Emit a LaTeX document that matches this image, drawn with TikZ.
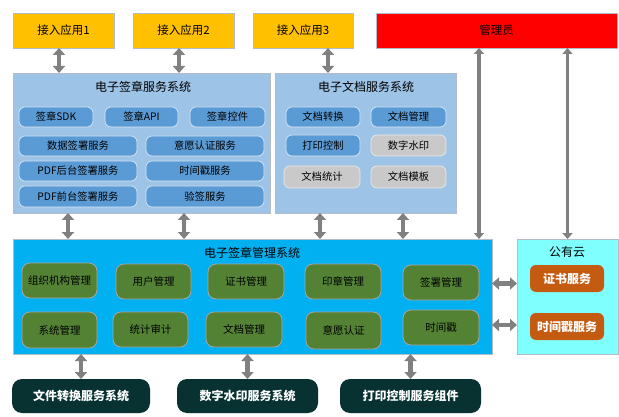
\documentclass[tikz,border=0pt]{standalone}
\usepackage{fontspec}
\setmainfont{Noto Sans CJK SC}
\usetikzlibrary{arrows.meta}
\definecolor{appY}{HTML}{FFC000}
\definecolor{adminR}{HTML}{FF0000}
\definecolor{contB}{HTML}{9DC3E6}
\definecolor{pillB}{HTML}{5B9BD5}
\definecolor{pillG}{HTML}{C9C9C9}
\definecolor{mgmtB}{HTML}{00B0F0}
\definecolor{greenM}{HTML}{548235}
\definecolor{cloudC}{HTML}{80FFFF}
\definecolor{orangeS}{HTML}{C55A11}
\definecolor{darkT}{HTML}{073231}
\definecolor{arrG}{HTML}{808080}
\definecolor{edgeG}{HTML}{B4BCC8}
\newcommand\bx[7]{\node[#6, minimum width={#4-#2}, minimum height={#5-#3}] (#1) at ({(#2+#4)/2},{(#3+#5)/2}) {#7};}
\tikzset{
  base/.style={inner sep=0pt, outer sep=0pt, align=center},
  appbox/.style={base, fill=appY, draw=edgeG, line width=0.6pt, font=\fontsize{11.5}{13}\selectfont},
  adminbox/.style={base, fill=adminR, draw=edgeG, line width=0.6pt, font=\fontsize{11.5}{13}\selectfont},
  contbox/.style={base, fill=contB, draw=edgeG, line width=0.6pt},
  title/.style={base, font=\fontsize{12}{14}\selectfont},
  pill/.style={base, rounded corners=6pt, fill=pillB, draw=white!75!pillB, line width=0.7pt, font=\fontsize{10.3}{12}\selectfont},
  gpill/.style={pill, fill=pillG, draw=white!60!pillG},
  mgmtbox/.style={base, fill=mgmtB, draw=edgeG, line width=0.6pt},
  cloudbox/.style={base, fill=cloudC, draw=edgeG, line width=0.6pt},
  gbox/.style={base, rounded corners=8pt, fill=greenM, draw=gray!70, line width=0.8pt, font=\fontsize{10.5}{12}\selectfont},
  obox/.style={base, rounded corners=6pt, fill=orangeS, text=white, font=\fontsize{12}{14}\selectfont\bfseries},
  dbox/.style={base, rounded corners=10pt, fill=darkT, text=white, font=\fontsize{12}{14}\selectfont\bfseries},
  dbl/.style={draw=arrG, line width=4.3pt, {Triangle[width=12pt,length=7pt]}-{Triangle[width=12pt,length=7pt]}},
  dblthin/.style={draw=arrG, line width=3.5pt, {Triangle[width=10pt,length=6pt]}-{Triangle[width=10pt,length=6pt]}},
}
\begin{document}
\begin{tikzpicture}[x=1pt,y=-1pt]
\useasboundingbox[fill=white] (0,0) rectangle (619,417);
% top row
\bx{a1}{13}{13}{114}{48}{appbox}{接入应用1}
\bx{a2}{133}{13}{234}{48}{appbox}{接入应用2}
\bx{a3}{253}{13}{353}{48}{appbox}{接入应用3}
\bx{adm}{376}{13}{617}{48}{adminbox}{管理员}
% service systems
\bx{sig}{13}{73}{270}{213}{contbox}{}
\node[title] (sigt) at (143,87) {电子签章服务系统};
\bx{doc}{275}{73}{456}{213}{contbox}{}
\node[title] (doct) at (366,87) {电子文档服务系统};
% signature pills
\bx{s1}{19}{107}{93}{127}{pill}{签章SDK}
\bx{s2}{105}{107}{178}{127}{pill}{签章API}
\bx{s3}{190}{107}{265}{127}{pill}{签章控件}
\bx{s4}{19}{136}{137}{156}{pill}{数据签署服务}
\bx{s5}{146}{136}{264}{156}{pill}{意愿认证服务}
\bx{s6}{19}{161}{137}{181}{pill}{PDF后台签署服务}
\bx{s7}{146}{161}{264}{181}{pill}{时间戳服务}
\bx{s8}{19}{186}{137}{207}{pill}{PDF前台签署服务}
\bx{s9}{146}{186}{264}{207}{pill}{验签服务}
% document pills
\bx{d1}{286}{107}{360}{127}{pill}{文档转换}
\bx{d2}{371}{107}{446}{127}{pill}{文档管理}
\bx{d3}{286}{135}{360}{156}{pill}{打印控制}
\bx{d4}{371}{135}{446}{156}{gpill}{数字水印}
\bx{d5}{284}{166}{360}{188}{gpill}{文档统计}
\bx{d6}{371}{166}{446}{188}{gpill}{文档模板}
% management system
\bx{mg}{13}{239}{492}{354}{mgmtbox}{}
\node[title] (mgt) at (252,253) {电子签章管理系统};
\bx{g1}{22}{263}{97}{298}{gbox}{组织机构管理}
\bx{g2}{116}{264}{191}{299}{gbox}{用户管理}
\bx{g3}{208}{264}{284}{299}{gbox}{证书管理}
\bx{g4}{305}{264}{381}{299}{gbox}{印章管理}
\bx{g5}{403}{265}{479}{300}{gbox}{签署管理}
\bx{g6}{22}{312}{97}{348}{gbox}{系统管理}
\bx{g7}{113}{312}{188}{347}{gbox}{统计审计}
\bx{g8}{206}{312}{282}{347}{gbox}{文档管理}
\bx{g9}{306}{312}{381}{349}{gbox}{意愿认证}
\bx{g10}{403}{310}{479}{345}{gbox}{时间戳}
% public cloud
\bx{cl}{517}{239}{618}{354}{cloudbox}{}
\node[title] (clt) at (567,252) {公有云};
\bx{c1}{530}{265}{604}{292}{obox}{证书服务}
\bx{c2}{530}{313}{604}{340}{obox}{时间戳服务}
% bottom systems
\bx{b1}{12}{379}{150}{413}{dbox}{文件转换服务系统}
\bx{b2}{177}{379}{318}{413}{dbox}{数字水印服务系统}
\bx{b3}{340}{379}{481}{413}{dbox}{打印控制服务组件}
% arrow anchor coordinates
\coordinate (p1) at ([xshift=-4.5pt]a1.south);
\coordinate (p2) at ([xshift=-4.5pt]a2.south);
\coordinate (p3) at ([xshift=25pt]a3.south);
\coordinate (m1) at ([xshift=55pt]sig.south west);
\coordinate (m2) at ([xshift=171pt]sig.south west);
\coordinate (m3) at ([xshift=45pt]doc.south west);
\coordinate (m4) at ([xshift=128pt]doc.south west);
\coordinate (q1) at ([xshift=103pt]adm.south west);
\coordinate (q2) at (adm.south -| cl.north);
\coordinate (h1) at ([yshift=-5pt]c1.west);
\coordinate (h2) at ([yshift=1.5pt]c2.west);
% arrows
\draw[dbl] (p1) -- (p1 |- sig.north);
\draw[dbl] (p2) -- (p2 |- sig.north);
\draw[dbl] (p3) -- (p3 |- doc.north);
\draw[dbl] (m1) -- (m1 |- mg.north);
\draw[dbl] (m2) -- (m2 |- mg.north);
\draw[dbl] (m3) -- (m3 |- mg.north);
\draw[dbl] (m4) -- (m4 |- mg.north);
\draw[dblthin] (q1) -- (q1 |- mg.north);
\draw[dblthin] (q2) -- (cl.north);
\draw[dbl] (h1 -| mg.east) -- (h1 -| cl.west);
\draw[dbl] (h2 -| mg.east) -- (h2 -| cl.west);
\draw[dbl] (b1.north |- mg.south) -- (b1.north);
\draw[dbl] (b2.north |- mg.south) -- (b2.north);
\draw[dbl] (b3.north |- mg.south) -- (b3.north);
\end{tikzpicture}
\end{document}
